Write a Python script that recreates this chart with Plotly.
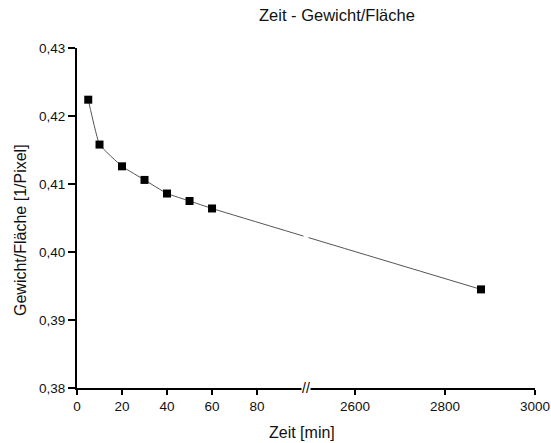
import plotly.graph_objects as go

# ---- data ----
zeit_min = [5, 10, 20, 30, 40, 50, 60, 2880]
gewicht_flaeche = [0.4224, 0.4158, 0.4126, 0.4106, 0.4086, 0.4075, 0.4064, 0.3945]

major_ticks = [0, 20, 40, 60, 80, 2600, 2800, 3000]
major_labels = ["0", "20", "40", "60", "80", "2600", "2800", "3000"]
y_major = [0.38, 0.39, 0.40, 0.41, 0.42, 0.43]

# ---- broken axis mapping (left 0..103.5, right 2500..3000 compressed 1:5) ----
LEFT_MAX = 103.5
RIGHT_MIN = 2500.0
RIGHT_SCALE = 0.2
X_MAX = 3000.0
Y_RANGE = [0.38, 0.43]


def tx(v):
    if v <= LEFT_MAX:
        return v
    return LEFT_MAX + (v - RIGHT_MIN) * RIGHT_SCALE


FONT = "Liberation Sans, Arial, sans-serif"
AX_COLOR = "#000000"
X_RANGE = [0, tx(X_MAX)]

W_PX, H_PX = 551, 443
ML, MR, MT, MB = 77, 16, 48, 55
PW = W_PX - ML - MR
PH = H_PX - MT - MB

fig = go.Figure()
fig.add_trace(go.Scatter(
    x=[tx(v) for v in zeit_min], y=gewicht_flaeche,
    mode="lines+markers",
    line=dict(color="#555555", width=1, shape="spline", smoothing=0.3),
    marker=dict(symbol="square", size=8, color="black"),
    showlegend=False,
))

fig.update_layout(
    template="none",
    width=W_PX, height=H_PX,
    margin=dict(l=ML, r=MR, t=MT, b=MB, autoexpand=False),
    paper_bgcolor="white", plot_bgcolor="white",
    separators=",.",
    font=dict(family=FONT, size=13.5, color="#111111"),
    annotations=[
        dict(text="Zeit - Gewicht/Fläche", xref="paper", yref="paper",
             x=(337 - ML) / PW, y=(PH + MT - 15) / PH, xanchor="center",
             yanchor="middle", showarrow=False, font=dict(size=16.5)),
        dict(text="Zeit [min]", xref="paper", yref="paper",
             x=(302 - ML) / PW, y=-(432 - (H_PX - MB)) / PH, xanchor="center",
             yanchor="middle", showarrow=False, font=dict(size=16)),
        dict(text="Gewicht/Fläche [1/Pixel]", xref="paper", yref="paper",
             x=-(ML - 20) / PW, y=((H_PX - MB) - 230) / PH, xanchor="center",
             yanchor="middle", showarrow=False, textangle=-90,
             font=dict(size=16)),
        dict(text="//", xref="x", yref="paper", x=LEFT_MAX, y=0,
             xanchor="right", yanchor="middle", xshift=1, showarrow=False,
             bgcolor="white", borderpad=0,
             font=dict(size=14, color=AX_COLOR)),
        dict(text="&nbsp;", xref="x", yref="y", x=LEFT_MAX, y=0.4028,
             xanchor="right", yanchor="middle", xshift=-1, showarrow=False,
             bgcolor="white", borderpad=1, font=dict(size=8)),
    ],
    xaxis=dict(
        range=X_RANGE, automargin=False,
        tickmode="array", tickvals=[tx(v) for v in major_ticks],
        ticktext=major_labels,
        ticks="outside", ticklen=5, tickwidth=2, tickcolor=AX_COLOR,
        showline=True, linecolor=AX_COLOR, linewidth=2,
        showgrid=False, zeroline=False,
    ),
    yaxis=dict(
        range=Y_RANGE, automargin=False,
        tickmode="array", tickvals=y_major, tickformat=".2f",
        ticks="outside", ticklen=7, tickwidth=2, tickcolor=AX_COLOR,
        showline=True, linecolor=AX_COLOR, linewidth=2,
        showgrid=False, zeroline=False,
    ),
)

fig.write_html("out.html")
